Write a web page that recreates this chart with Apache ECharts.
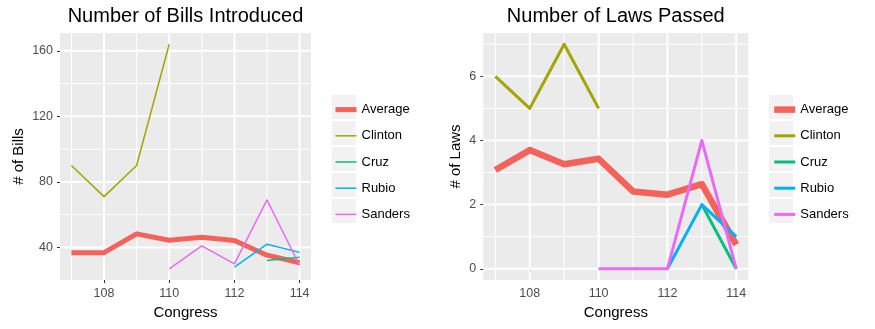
<!DOCTYPE html>
<html>
<head>
<meta charset="utf-8">
<script src="https://cdn.jsdelivr.net/npm/echarts@6/dist/echarts.min.js"></script>
<style>
html,body{margin:0;padding:0;background:#fff;}
#chart{width:875px;height:329px;}
</style>
</head>
<body>
<div id="chart"></div>
<script>
// ---- data ----
var congress = [107, 108, 109, 110, 111, 112, 113, 114];
var seriesNames = ['Average', 'Clinton', 'Cruz', 'Rubio', 'Sanders'];

var billsAverage = [36.8, 36.8, 48.3, 44.4, 46.3, 44.2, 35.3, 30.7];
var billsClinton = [90, 71, 90, 164, null, null, null, null];
var billsCruz    = [null, null, null, null, null, null, 32, 34];
var billsRubio   = [null, null, null, null, null, 28, 42, 37];
var billsSanders = [null, null, null, 27, 41, 30, 69, 29];

var lawsAverage = [3.08, 3.70, 3.26, 3.43, 2.41, 2.31, 2.64, 0.75];
var lawsClinton = [6, 5, 7, 5, null, null, null, null];
var lawsCruz    = [null, null, null, null, null, null, 2, 0];
var lawsRubio   = [null, null, null, null, null, 0, 2, 1];
var lawsSanders = [null, null, null, 0, 0, 0, 4, 0];

var xTicks = [108, 110, 112, 114];
var xMinor = [107, 109, 111, 113];
var billsTicks = [40, 80, 120, 160];
var billsMinor = [60, 100, 140];
var lawsTicks = [0, 2, 4, 6];
var lawsMinor = [1, 3, 5, 7];

// ---- styling ----
var colors = {Average: '#F4625C', Clinton: '#A3A500', Cruz: '#00BF7D', Rubio: '#00B0F6', Sanders: '#E76BF3'};
var FONT = 'Liberation Sans, Arial, Helvetica, sans-serif';

function pairs(vals) {
  var out = [];
  for (var i = 0; i < congress.length; i++) {
    if (vals[i] !== null) out.push([congress[i], vals[i]]);
  }
  return out;
}
function expandRange(arrs) {
  var mn = Infinity, mx = -Infinity;
  arrs.forEach(function (a) { a.forEach(function (v) { if (v !== null) { mn = Math.min(mn, v); mx = Math.max(mx, v); } }); });
  var pad = (mx - mn) * 0.05;
  return [mn - pad, mx + pad];
}
var xPad = (congress[congress.length - 1] - congress[0]) * 0.05;
var xMin = congress[0] - xPad, xMax = congress[congress.length - 1] + xPad;

var billsSets = [billsAverage, billsClinton, billsCruz, billsRubio, billsSanders];
var lawsSets = [lawsAverage, lawsClinton, lawsCruz, lawsRubio, lawsSanders];
var billsRange = expandRange(billsSets);
var lawsRange = expandRange(lawsSets);

// gridline series (custom). Each item: [x, y] position of the line, orientation, width.
function gridSeries(idx, yRange, xMajor, xMin_, yMajor, yMin_) {
  var d = [];
  var midY = (yRange[0] + yRange[1]) / 2, midX = (xMin + xMax) / 2;
  xMin_.forEach(function (v) { d.push([v, midY, 0, 1]); });
  yMin_.forEach(function (v) { d.push([midX, v, 1, 1]); });
  xMajor.forEach(function (v) { d.push([v, midY, 0, 2]); });
  yMajor.forEach(function (v) { d.push([midX, v, 1, 2]); });
  return {
    type: 'custom', xAxisIndex: idx, yAxisIndex: idx, z: 2, silent: true, animation: false,
    clip: false,
    dimensions: ['x', 'y', 'o', 'w'],
    data: d,
    renderItem: function (params, api) {
      var cs = params.coordSys;
      var p = api.coord([api.value(0), api.value(1)]);
      var o = api.value(2), w = api.value(3);
      var shape = (o === 0)
        ? {x1: p[0], y1: cs.y, x2: p[0], y2: cs.y + cs.height}
        : {x1: cs.x, y1: p[1], x2: cs.x + cs.width, y2: p[1]};
      return {type: 'line', shape: shape, style: {stroke: '#ffffff', lineWidth: w}};
    }
  };
}

var series = [
  gridSeries(0, billsRange, xTicks, xMinor, billsTicks, billsMinor),
  gridSeries(1, lawsRange, xTicks, xMinor, lawsTicks, lawsMinor)
];
seriesNames.forEach(function (n, i) {
  series.push({
    type: 'line', name: n, xAxisIndex: 0, yAxisIndex: 0,
    data: pairs(billsSets[i]), showSymbol: false, symbol: 'none', z: 3 + i,
    lineStyle: {color: colors[n], width: i === 0 ? 5 : 1.5, cap: 'butt', join: 'round'},
    itemStyle: {color: colors[n]}, animation: false, silent: true
  });
});
seriesNames.forEach(function (n, i) {
  series.push({
    type: 'line', name: n + ' ', xAxisIndex: 1, yAxisIndex: 1,
    data: pairs(lawsSets[i]), showSymbol: false, symbol: 'none', z: 3 + i,
    lineStyle: {color: colors[n], width: i === 0 ? 6.5 : 3, cap: 'butt', join: 'round'},
    itemStyle: {color: colors[n]}, animation: false, silent: true
  });
});

function xAxisDef(idx) {
  return {
    type: 'value', gridIndex: idx, min: xMin, max: xMax,
    name: 'Congress', nameLocation: 'middle', nameGap: 22,
    nameTextStyle: {fontFamily: FONT, fontSize: 15, color: '#000'},
    axisLine: {show: false},
    axisTick: {show: true, length: 3, customValues: xTicks, lineStyle: {color: '#333', width: 1}},
    axisLabel: {customValues: xTicks, margin: 7, fontFamily: FONT, fontSize: 12.5, color: '#4D4D4D'},
    splitLine: {show: false}
  };
}
function yAxisDef(idx, range, ticks, name, gap) {
  return {
    type: 'value', gridIndex: idx, min: range[0], max: range[1],
    name: name, nameLocation: 'middle', nameGap: gap,
    nameTextStyle: {fontFamily: FONT, fontSize: 15, color: '#000'},
    axisLine: {show: false},
    axisTick: {show: true, length: 3, customValues: ticks, lineStyle: {color: '#333', width: 1}},
    axisLabel: {customValues: ticks, margin: 7, fontFamily: FONT, fontSize: 12.5, color: '#4D4D4D'},
    splitLine: {show: false}
  };
}

function legendDef(left, suffix) {
  return {
    orient: 'vertical', left: left, top: 100, padding: 0,
    itemWidth: 21, itemHeight: 24, itemGap: 7,
    data: seriesNames.map(function (n) { return n + suffix; }),
    formatter: function (name) { return name.trim(); },
    textStyle: {fontFamily: FONT, fontSize: 13, color: '#000'},
    lineStyle: {width: 'inherit'},
    itemStyle: {opacity: 0},
    selectedMode: false
  };
}

var keyRects = [];
[331.7, 769].forEach(function (x) {
  seriesNames.forEach(function (n, i) {
    keyRects.push({type: 'rect', left: x, top: 95 + 26 * i, z: -1, silent: true,
      shape: {width: 24, height: 24}, style: {fill: '#F2F2F2'}});
  });
});

var option = {
  animation: false,
  backgroundColor: '#ffffff',
  title: [
    {text: 'Number of Bills Introduced', left: 185.5, top: 6, textAlign: 'center', padding: 0,
      textStyle: {fontFamily: FONT, fontSize: 20, fontWeight: 'normal', color: '#000'}},
    {text: 'Number of Laws Passed', left: 615.8, top: 6, textAlign: 'center', padding: 0,
      textStyle: {fontFamily: FONT, fontSize: 20, fontWeight: 'normal', color: '#000'}}
  ],
  grid: [
    {left: 60, top: 33, width: 251, height: 247, show: true, backgroundColor: '#EBEBEB', borderWidth: 0, containLabel: false, z: 0},
    {left: 483.3, top: 33, width: 265, height: 247, show: true, backgroundColor: '#EBEBEB', borderWidth: 0, containLabel: false, z: 0}
  ],
  xAxis: [xAxisDef(0), xAxisDef(1)],
  yAxis: [yAxisDef(0, billsRange, billsTicks, '# of Bills', 34), yAxisDef(1, lawsRange, lawsTicks, '# of Laws', 20)],
  legend: [legendDef(333, ''), legendDef(771, ' ')],
  graphic: {elements: keyRects},
  series: series
};

var chart = echarts.init(document.getElementById('chart'), null, {renderer: 'canvas'});
chart.setOption(option);
</script>
</body>
</html>
